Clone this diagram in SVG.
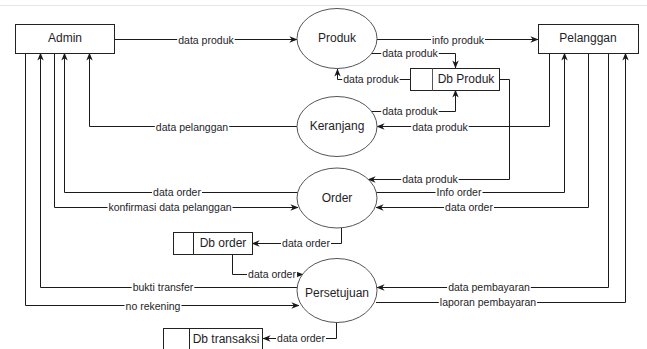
<svg xmlns="http://www.w3.org/2000/svg" width="647" height="349" viewBox="0 0 647 349">
<style>
  .box { fill: #ffffff; stroke: #222222; stroke-width: 1; }
  .proc { fill: #ffffff; stroke: #555555; stroke-width: 1; }
  .name { font-family: "Liberation Sans", Arial, sans-serif; font-size: 12px; fill: #1e1e28; text-anchor: middle; dominant-baseline: central; }
  .edge { fill: none; stroke: #1a1a1a; stroke-width: 1; }
  .bg { fill: #ffffff; }
  .lbl { font-family: "Liberation Sans", Arial, sans-serif; font-size: 10.5px; fill: #1e1e28; text-anchor: middle; dominant-baseline: central; }
</style>
<defs>
  <marker id="arr" viewBox="0 0 10 8" refX="9.5" refY="4" markerWidth="8" markerHeight="7" markerUnits="userSpaceOnUse" orient="auto">
    <path d="M0,0 L10,4 L0,8 L3,4 Z" fill="#1a1a1a"/>
  </marker>
</defs>
<rect x="0" y="0" width="647" height="349" fill="#ffffff"/>
<line x1="0" y1="5.5" x2="647" y2="5.5" stroke="#e6e6e6" stroke-width="1"/>

<g id="connectors">
  <path class="edge" d="M114,39.5 H297" marker-end="url(#arr)"/>
  <path class="edge" d="M377,39.5 H538" marker-end="url(#arr)"/>
  <path class="edge" d="M372,53.5 H455.5 V68" marker-end="url(#arr)"/>
  <path class="edge" d="M410,79.5 H337.5 V69" marker-end="url(#arr)"/>
  <path class="edge" d="M372,111.5 H455.5 V90" marker-end="url(#arr)"/>
  <path class="edge" d="M549.5,53 V126.5 H377" marker-end="url(#arr)"/>
  <path class="edge" d="M297,126.5 H89.5 V53" marker-end="url(#arr)"/>
  <path class="edge" d="M499,79.5 H509.5 V179.5 H368" marker-end="url(#arr)"/>
  <path class="edge" d="M298,192.5 H64.5 V53" marker-end="url(#arr)"/>
  <path class="edge" d="M376,192.5 H564.5 V53" marker-end="url(#arr)"/>
  <path class="edge" d="M54.5,53 V207.5 H298" marker-end="url(#arr)"/>
  <path class="edge" d="M588.5,53 V207.5 H376" marker-end="url(#arr)"/>
  <path class="edge" d="M341.5,228 V243.5 H252" marker-end="url(#arr)"/>
  <path class="edge" d="M232.5,254 V274.5 H303" marker-end="url(#arr)"/>
  <path class="edge" d="M297,287.5 H40.5 V53" marker-end="url(#arr)"/>
  <path class="edge" d="M25.5,53 V305.5 H299" marker-end="url(#arr)"/>
  <path class="edge" d="M608.5,53 V287.5 H377" marker-end="url(#arr)"/>
  <path class="edge" d="M376,302.5 H625.5 V53" marker-end="url(#arr)"/>
  <path class="edge" d="M336.5,322 V338.5 H263" marker-end="url(#arr)"/>

  <rect class="bg" x="177.2" y="34" width="57.5" height="11"/>
  <rect class="bg" x="431" y="34" width="54" height="11"/>
  <rect class="bg" x="381.2" y="48" width="57.5" height="11"/>
  <rect class="bg" x="342.2" y="74" width="57.5" height="11"/>
  <rect class="bg" x="381.2" y="106" width="57.5" height="11"/>
  <rect class="bg" x="411.2" y="121" width="57.5" height="11"/>
  <rect class="bg" x="154.8" y="121" width="74.4" height="11"/>
  <rect class="bg" x="401.2" y="174" width="57.5" height="11"/>
  <rect class="bg" x="152" y="187" width="50" height="11"/>
  <rect class="bg" x="435.5" y="187" width="47" height="11"/>
  <rect class="bg" x="107.5" y="202" width="125" height="11"/>
  <rect class="bg" x="444" y="202" width="50" height="11"/>
  <rect class="bg" x="281" y="238" width="50" height="11"/>
  <rect class="bg" x="247" y="269" width="50" height="11"/>
  <rect class="bg" x="131.6" y="282" width="62.7" height="11"/>
  <rect class="bg" x="447.1" y="282" width="83.7" height="11"/>
  <rect class="bg" x="124.5" y="300" width="57" height="11"/>
  <rect class="bg" x="438.8" y="297" width="98.3" height="11"/>
  <rect class="bg" x="276" y="333" width="50" height="11"/>

  <text class="lbl" x="206" y="39.5">data produk</text>
  <text class="lbl" x="458" y="39.5">info produk</text>
  <text class="lbl" x="410" y="53">data produk</text>
  <text class="lbl" x="371" y="79">data produk</text>
  <text class="lbl" x="410" y="111">data produk</text>
  <text class="lbl" x="440" y="126.5">data produk</text>
  <text class="lbl" x="192" y="126.5">data pelanggan</text>
  <text class="lbl" x="430" y="179">data produk</text>
  <text class="lbl" x="177" y="192">data order</text>
  <text class="lbl" x="459" y="192">Info order</text>
  <text class="lbl" x="170" y="207">konfirmasi data pelanggan</text>
  <text class="lbl" x="469" y="207">data order</text>
  <text class="lbl" x="306" y="243">data order</text>
  <text class="lbl" x="272" y="274">data order</text>
  <text class="lbl" x="163" y="287">bukti transfer</text>
  <text class="lbl" x="489" y="287">data pembayaran</text>
  <text class="lbl" x="153" y="305.5">no rekening</text>
  <text class="lbl" x="488" y="302">laporan pembayaran</text>
  <text class="lbl" x="301" y="338">data order</text>
</g>

<g id="admin">
  <rect class="box" x="15.5" y="24.5" width="99" height="29"/>
  <text class="name" x="65" y="38">Admin</text>
</g>
<g id="pelanggan">
  <rect class="box" x="538.5" y="24.5" width="100" height="29"/>
  <text class="name" x="588" y="38">Pelanggan</text>
</g>
<g id="produk">
  <ellipse class="proc" cx="337" cy="38.5" rx="40" ry="30"/>
  <text class="name" x="337" y="37.5">Produk</text>
</g>
<g id="keranjang">
  <ellipse class="proc" cx="337" cy="126.5" rx="40" ry="30"/>
  <text class="name" x="337" y="125.5">Keranjang</text>
</g>
<g id="order">
  <ellipse class="proc" cx="337" cy="198" rx="40" ry="30"/>
  <text class="name" x="337" y="198">Order</text>
</g>
<g id="persetujuan">
  <ellipse class="proc" cx="337" cy="290.5" rx="40" ry="32"/>
  <text class="name" x="337" y="293">Persetujuan</text>
</g>
<g id="db-produk">
  <rect class="box" x="410.5" y="68.5" width="89" height="22"/>
  <line x1="432.5" y1="68.5" x2="432.5" y2="90.5" stroke="#555555"/>
  <text class="name" x="466" y="78.5">Db Produk</text>
</g>
<g id="db-order">
  <rect class="box" x="173.5" y="232.5" width="79" height="22"/>
  <line x1="193.5" y1="232.5" x2="193.5" y2="254.5" stroke="#222222"/>
  <text class="name" x="223" y="242.5">Db order</text>
</g>
<g id="db-transaksi">
  <rect class="box" x="163.5" y="328.5" width="99" height="30"/>
  <line x1="189.5" y1="328.5" x2="189.5" y2="358" stroke="#222222"/>
  <text class="name" x="226" y="338.5">Db transaksi</text>
</g>
</svg>
